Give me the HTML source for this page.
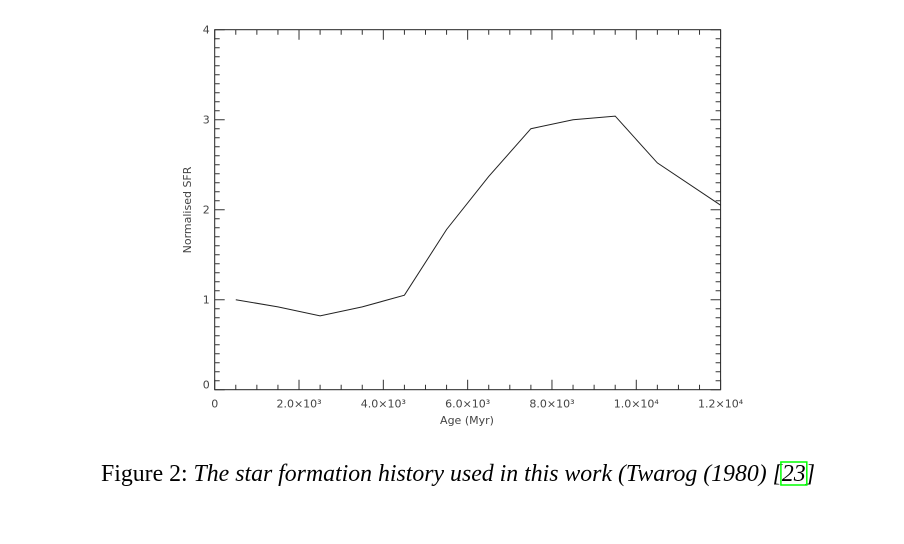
<!DOCTYPE html>
<html><head><meta charset="utf-8"><style>
body{margin:0;background:#fff;width:904px;height:544px;overflow:hidden}
svg{display:block}
</style></head><body>
<svg id="svg" width="904" height="544" font-family="DejaVu Sans, Liberation Sans, sans-serif">
<g id="axes"></g>
<g id="series"></g>
<text x="467" y="424" font-size="11" fill="#444" text-anchor="middle">Age (Myr)</text>
<text transform="translate(191,210) rotate(-90)" font-size="11" fill="#444" text-anchor="middle">Normalised SFR</text>
<text id="cap" x="101" y="481" font-size="23.8" font-family="Liberation Serif, serif">Figure 2: <tspan font-style="italic">The star formation history used in this work (Twarog (1980) [</tspan><tspan id="cite" font-style="italic">23</tspan><tspan font-style="italic">]</tspan></text>
<rect id="citebox" x="784" y="462" width="28" height="23" fill="none" stroke="#0f0" stroke-width="1.5"/>
</svg>
<script>
const ages=[500,1500,2500,3500,4500,5500,6500,7500,8500,9500,10500,12000];
const sfr=[1.0,0.92,0.82,0.92,1.05,1.78,2.37,2.9,3.0,3.04,2.52,2.05];
const xTicks=[0,2000,4000,6000,8000,10000,12000];
const xTickLabels=["0","2.0×10³","4.0×10³","6.0×10³","8.0×10³","1.0×10⁴","1.2×10⁴"];
const yTicks=[0,1,2,3,4];
const L=214.7,R=720.6,T=29.7,B=389.7;
const X=v=>L+(v-0)/12000*(R-L);
const Y=v=>B-(v-0)/4*(B-T);
const NS="http://www.w3.org/2000/svg";
function mk(tag,attrs,parent){const e=document.createElementNS(NS,tag);for(const k in attrs)e.setAttribute(k,attrs[k]);parent.appendChild(e);return e;}
const ax=document.getElementById('axes');
const frame=mk('rect',{x:L,y:T,width:R-L,height:B-T,fill:'none',stroke:'#222','stroke-width':1},ax);


let d='';
for(let v=0;v<=12000;v+=500){const x=X(v);const len=v%2000===0?10:5;d+=`M${x},${B}v${-len}M${x},${T}v${len}`;}
for(let v=0;v<=40;v++){const y=Y(v/10);const len=v%10===0?10:5;d+=`M${L},${y}h${len}M${R},${y}h${-len}`;}
const tk=mk('path',{d:d,stroke:'#333','stroke-width':1,fill:'none'},ax);


xTicks.forEach((v,i)=>{const t=mk('text',{x:X(v),y:B+18,'font-size':11,fill:'#444','text-anchor':'middle'},ax);t.textContent=xTickLabels[i];

});
yTicks.forEach(v=>{const t=mk('text',{x:L-5,y:Y(v)+(v===0?-1:4),'font-size':11,fill:'#444','text-anchor':'end'},ax);t.textContent=String(v);

});
const line=mk('polyline',{points:ages.map((a,i)=>X(a)+','+Y(sfr[i])).join(' '),fill:'none',stroke:'#222','stroke-width':1},document.getElementById('series'));


try{const bb=document.getElementById('cite').getBBox();const r=document.getElementById('citebox');
r.setAttribute('x',bb.x-1);r.setAttribute('width',bb.width+2);}catch(e){}
</script>
</body></html>
